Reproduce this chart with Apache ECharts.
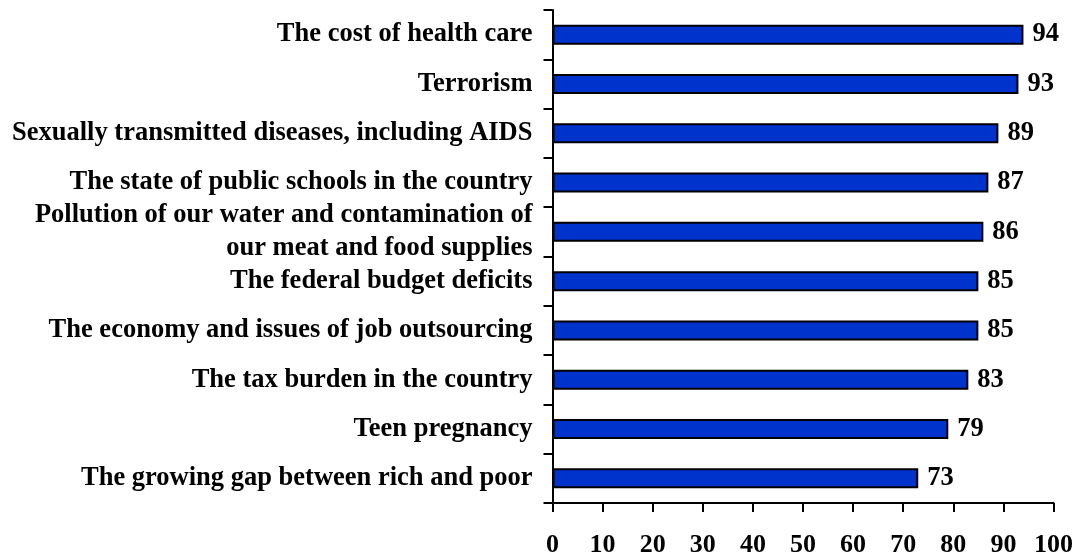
<!DOCTYPE html>
<html>
<head>
<meta charset="utf-8">
<script src="https://cdn.jsdelivr.net/npm/echarts@6/dist/echarts.min.js"></script>
<style>
html,body{margin:0;padding:0;background:#fff;}
#c{width:1076px;height:558px;}
</style>
</head>
<body>
<div id="c"></div>
<script>
const categories = [
  "The cost of health care",
  "Terrorism",
  "Sexually transmitted diseases, including AIDS",
  "The state of public schools in the country",
  "Pollution of our water and contamination of\nour meat and food supplies",
  "The federal budget deficits",
  "The economy and issues of job outsourcing",
  "The tax burden in the country",
  "Teen pregnancy",
  "The growing gap between rich and poor"
];
const values = [94, 93, 89, 87, 86, 85, 85, 83, 79, 73];
const xMin = 0, xMax = 100, xInterval = 10;

const font = "'Liberation Serif', 'Times New Roman', serif";
const chart = echarts.init(document.getElementById('c'));
chart.setOption({
  animation: false,
  backgroundColor: '#fff',
  grid: { left: 552.5, right: 22, top: 10, bottom: 50, containLabel: false },
  xAxis: {
    type: 'value', min: xMin, max: xMax, interval: xInterval,
    axisLine: { show: true, lineStyle: { color: '#000', width: 2 } },
    axisTick: { show: true, length: 9, lineStyle: { color: '#000', width: 2 } },
    splitLine: { show: false },
    axisLabel: { color: '#000', fontFamily: font, fontWeight: 'bold', fontSize: 26, margin: 29 }
  },
  yAxis: {
    type: 'category', data: categories, inverse: true,
    axisLine: { show: true, lineStyle: { color: '#000', width: 2 } },
    axisTick: { show: true, length: 9, lineStyle: { color: '#000', width: 2 } },
    axisLabel: { color: '#000', fontFamily: font, fontWeight: 'bold', fontSize: 26.5, margin: 20, interval: 0, lineHeight: 33, align: 'right' }
  },
  series: [{
    type: 'bar', data: values, barWidth: 20,
    itemStyle: { color: '#0033CC', borderColor: '#000', borderWidth: 2 },
    label: { show: true, position: 'right', distance: 9, color: '#000', fontFamily: font, fontWeight: 'bold', fontSize: 26.5 }
  }]
});
</script>
</body>
</html>
